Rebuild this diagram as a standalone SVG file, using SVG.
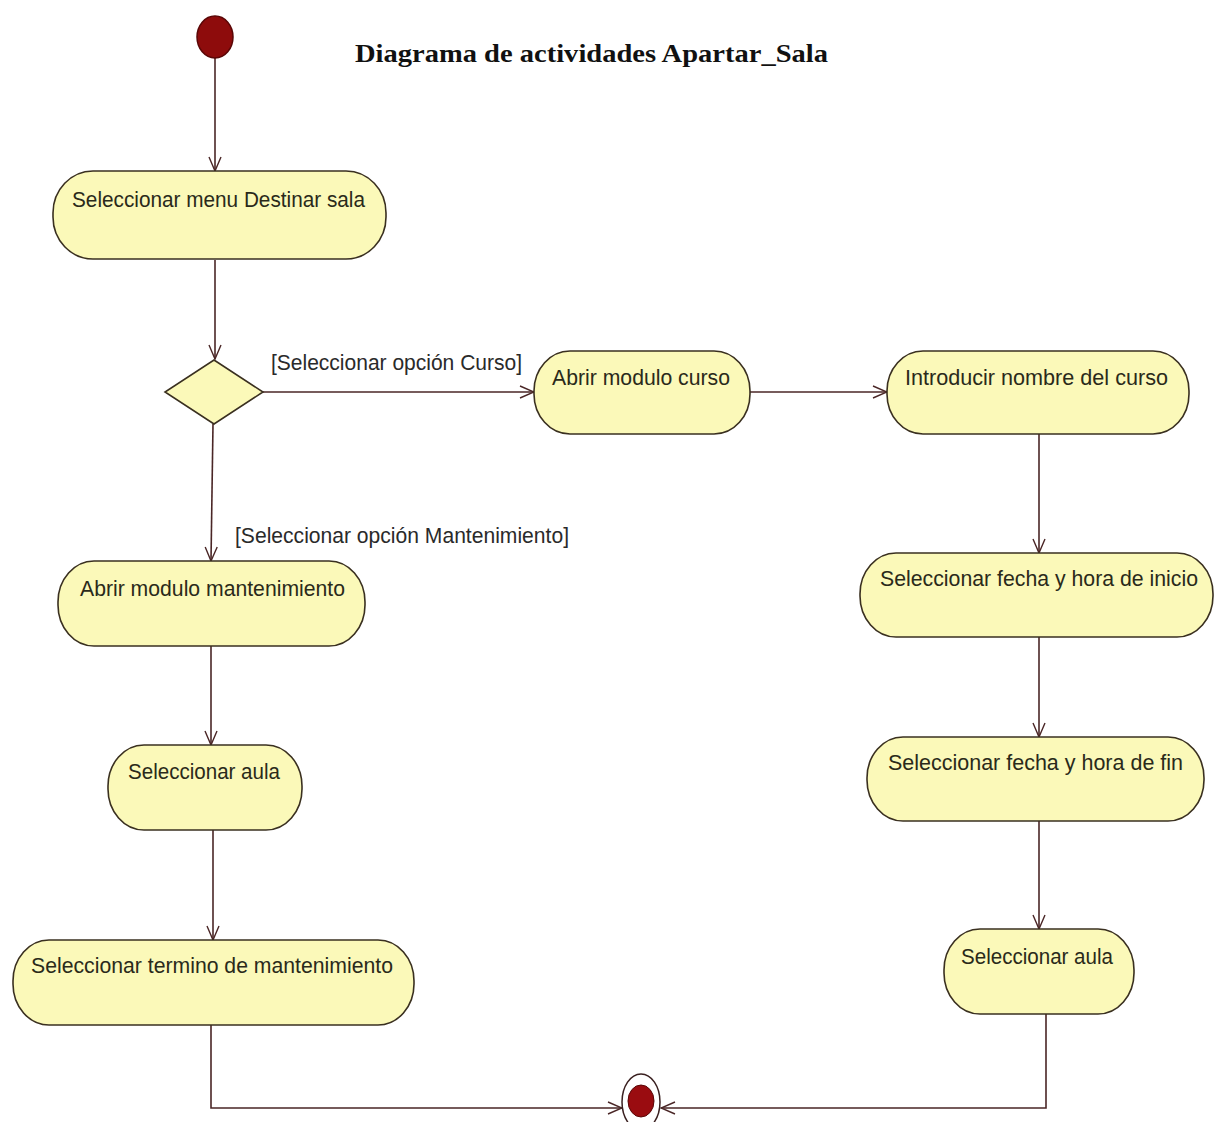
<svg xmlns="http://www.w3.org/2000/svg" width="1215" height="1122" viewBox="0 0 1215 1122">
<style>
.act{fill:#fbf9b9;stroke:#3a3020;stroke-width:1.6}
.dec{fill:#fbf9b9;stroke:#3a3020;stroke-width:1.6}
.t{font-family:"Liberation Sans",Arial,sans-serif;font-size:22px;fill:#2a2a1a}
.lbl{font-family:"Liberation Sans",Arial,sans-serif;font-size:22px;fill:#2a2a2a}
.title{font-family:"Liberation Serif","Times New Roman",serif;font-size:26px;font-weight:bold;fill:#111}
.c{fill:none;stroke:#4a2626;stroke-width:1.6}
</style>
<defs>
<marker id="arr" markerWidth="16" markerHeight="14" refX="15" refY="7" orient="auto" markerUnits="userSpaceOnUse">
<path d="M1,1 L15,7 L1,13" fill="none" stroke="#4a2626" stroke-width="1.4"/>
</marker>
</defs>
<rect width="1215" height="1122" fill="#ffffff"/>
<text class="title" x="355" y="62" textLength="473" lengthAdjust="spacingAndGlyphs">Diagrama de actividades Apartar_Sala</text>

<g id="connectors">
<line class="c" x1="215" y1="57" x2="215" y2="171" marker-end="url(#arr)"/>
<line class="c" x1="215" y1="260" x2="215" y2="359" marker-end="url(#arr)"/>
<line class="c" x1="263" y1="392" x2="534" y2="392" marker-end="url(#arr)"/>
<line class="c" x1="213" y1="424" x2="211" y2="561" marker-end="url(#arr)"/>
<line class="c" x1="750" y1="392" x2="887" y2="392" marker-end="url(#arr)"/>
<line class="c" x1="1039" y1="433" x2="1039" y2="553" marker-end="url(#arr)"/>
<line class="c" x1="1039" y1="637" x2="1039" y2="737" marker-end="url(#arr)"/>
<line class="c" x1="1039" y1="821" x2="1039" y2="929" marker-end="url(#arr)"/>
<line class="c" x1="211" y1="646" x2="211" y2="745" marker-end="url(#arr)"/>
<line class="c" x1="213" y1="830" x2="213" y2="940" marker-end="url(#arr)"/>
<polyline class="c" points="211,1025 211,1108 622,1108" marker-end="url(#arr)"/>
<polyline class="c" points="1046,1013 1046,1108 661,1108" marker-end="url(#arr)"/>
<text class="lbl" x="271" y="370" textLength="251" lengthAdjust="spacingAndGlyphs">[Seleccionar opción Curso]</text>
<text class="lbl" x="235" y="543" textLength="334" lengthAdjust="spacingAndGlyphs">[Seleccionar opción Mantenimiento]</text>
</g>

<g id="start">
<ellipse cx="215" cy="37" rx="18" ry="21" fill="#8e0c0c" stroke="#5a0606" stroke-width="1.5"/>
</g>

<g id="n1">
<rect class="act" x="53" y="171" width="333" height="88" rx="40" ry="42"/>
<text class="t" x="72" y="207" textLength="293" lengthAdjust="spacingAndGlyphs">Seleccionar menu Destinar sala</text>
</g>

<g id="decision">
<polygon class="dec" points="214,360 263,392 214,424 165,392"/>
</g>

<g id="n3">
<rect class="act" x="534" y="351" width="216" height="83" rx="36" ry="40"/>
<text class="t" x="552" y="385" textLength="178" lengthAdjust="spacingAndGlyphs">Abrir modulo curso</text>
</g>

<g id="n4">
<rect class="act" x="887" y="351" width="302" height="83" rx="36" ry="40"/>
<text class="t" x="905" y="385" textLength="263" lengthAdjust="spacingAndGlyphs">Introducir nombre del curso</text>
</g>

<g id="n5">
<rect class="act" x="58" y="561" width="307" height="85" rx="36" ry="41"/>
<text class="t" x="80" y="596" textLength="265" lengthAdjust="spacingAndGlyphs">Abrir modulo mantenimiento</text>
</g>

<g id="n6">
<rect class="act" x="860" y="553" width="353" height="84" rx="36" ry="41"/>
<text class="t" x="880" y="586" textLength="318" lengthAdjust="spacingAndGlyphs">Seleccionar fecha y hora de inicio</text>
</g>

<g id="n7">
<rect class="act" x="108" y="745" width="194" height="85" rx="36" ry="41"/>
<text class="t" x="128" y="779" textLength="152" lengthAdjust="spacingAndGlyphs">Seleccionar aula</text>
</g>

<g id="n8">
<rect class="act" x="867" y="737" width="337" height="84" rx="36" ry="41"/>
<text class="t" x="888" y="770" textLength="295" lengthAdjust="spacingAndGlyphs">Seleccionar fecha y hora de fin</text>
</g>

<g id="n9">
<rect class="act" x="13" y="940" width="401" height="85" rx="36" ry="41"/>
<text class="t" x="31" y="973" textLength="362" lengthAdjust="spacingAndGlyphs">Seleccionar termino de mantenimiento</text>
</g>

<g id="n10">
<rect class="act" x="944" y="929" width="190" height="85" rx="36" ry="41"/>
<text class="t" x="961" y="964" textLength="152" lengthAdjust="spacingAndGlyphs">Seleccionar aula</text>
</g>

<g id="end">
<ellipse cx="641" cy="1102" rx="19" ry="28" fill="#ffffff" stroke="#3a2020" stroke-width="1.5"/>
<ellipse cx="641" cy="1101" rx="13" ry="16" fill="#9a0c10" stroke="#5a0606" stroke-width="1"/>
</g>
</svg>
